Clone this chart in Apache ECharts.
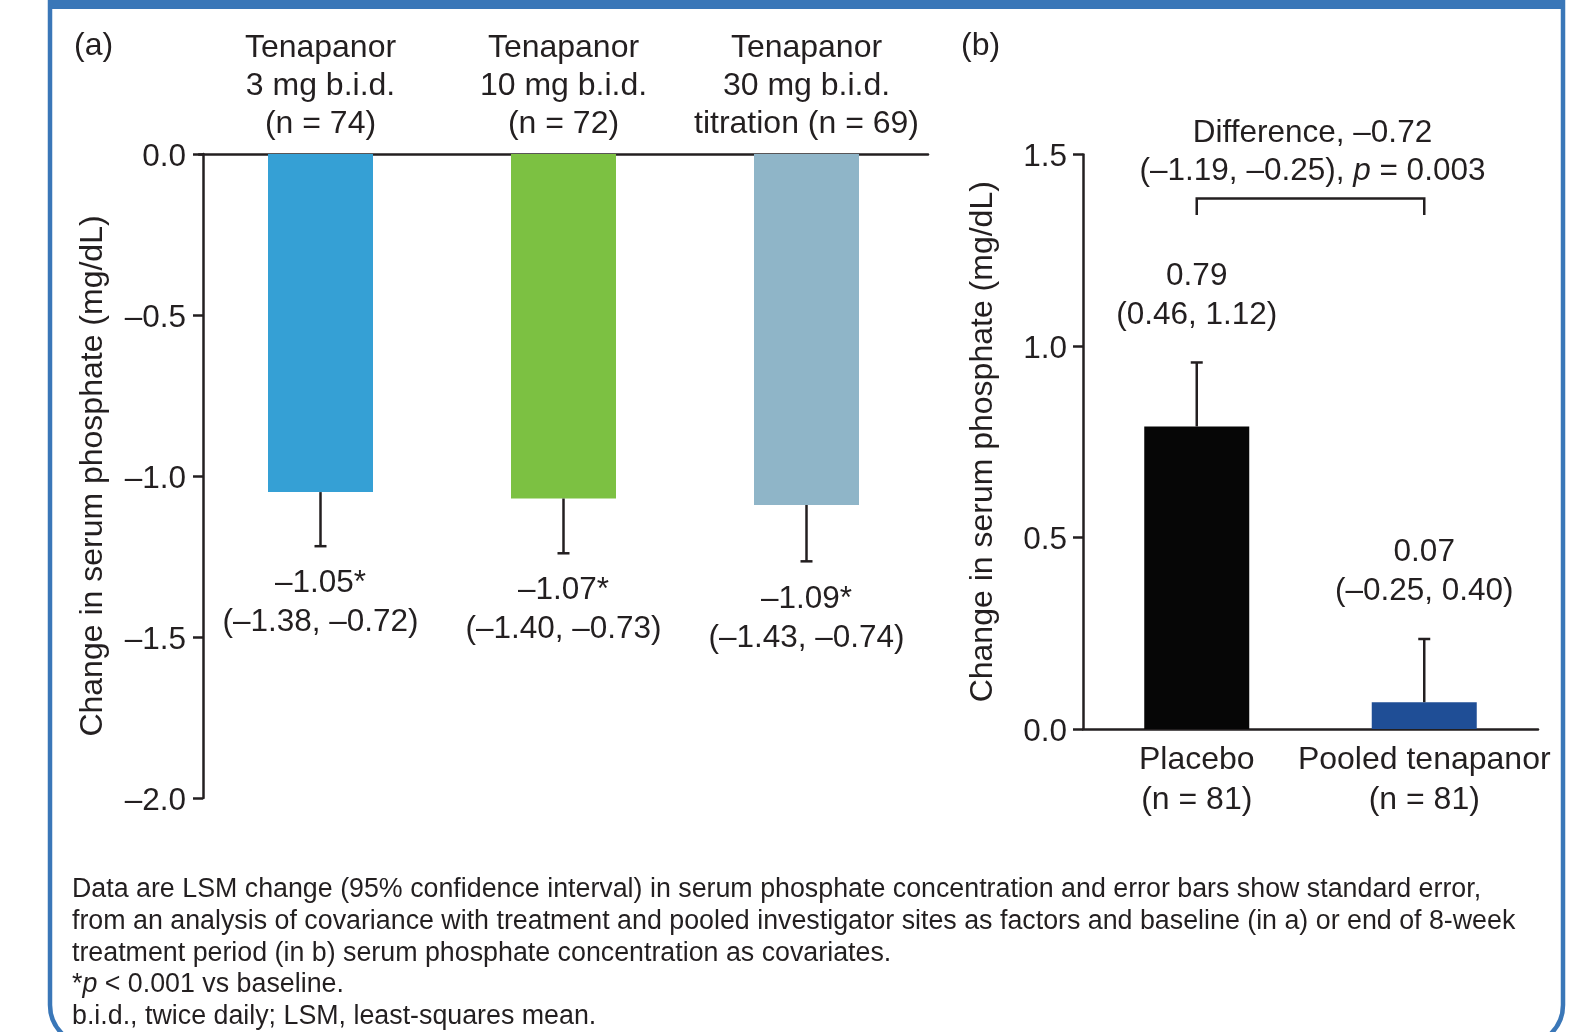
<!DOCTYPE html>
<html><head><meta charset="utf-8">
<script src="https://cdn.jsdelivr.net/npm/echarts@6/dist/echarts.min.js"></script>
<style>html,body{margin:0;padding:0;background:#fff}#c{width:1587px;height:1032px}</style>
</head><body><div id="c"></div>
<script>
// ---- Data: panel (a) ----
const catsA = ['Tenapanor\n3 mg b.i.d.\n(n = 74)', 'Tenapanor\n10 mg b.i.d.\n(n = 72)', 'Tenapanor\n30 mg b.i.d.\ntitration (n = 69)'];
const meanA = [-1.05, -1.07, -1.09];
const seA = [0.168, 0.170, 0.175];
const labelsA = ['–1.05*\n(–1.38, –0.72)', '–1.07*\n(–1.40, –0.73)', '–1.09*\n(–1.43, –0.74)'];
const colorsA = ['#35a0d5', '#7cc142', '#8fb5c8'];
const axisA = { min: -2, max: 0, interval: 0.5 };

// ---- Data: panel (b) ----
const catsB = ['Placebo\n(n = 81)', 'Pooled tenapanor\n(n = 81)'];
const meanB = [0.79, 0.07];
const seB = [0.167, 0.165];
const labelsB = ['0.79\n(0.46, 1.12)', '0.07\n(–0.25, 0.40)'];
const colorsB = ['#060606', '#1f4e96'];
const axisB = { min: 0, max: 1.5, interval: 0.5 };
const bracketB = { y: 1.385, leg: 1.342 };
const diffLine1 = 'Difference, –0.72';
const diffLine2 = ['(–1.19, –0.25), ', 'p', ' = 0.003'];

const yName = 'Change in serum phosphate (mg/dL)';
const footLines = [
  'Data are LSM change (95% confidence interval) in serum phosphate concentration and error bars show standard error,',
  'from an analysis of covariance with treatment and pooled investigator sites as factors and baseline (in a) or end of 8-week',
  'treatment period (in b) serum phosphate concentration as covariates.',
  ['*', 'p', ' < 0.001 vs baseline.'],
  'b.i.d., twice daily; LSM, least-squares mean.'
];

const FONT = '"Liberation Sans", Arial, Helvetica, sans-serif';
const INK = '#231f20';
const FS = 32;
const FSD = 31.5;
const FSF = 26.8;

function tickFmt(v) { return '{t|' + (v < 0 ? '–' : '') + Math.abs(v).toFixed(1) + '}'; }
const tickRich = { t: { fontSize: FSD, fontFamily: FONT, color: INK, padding: [6, 0, 0, 0] } };

const chart = echarts.init(document.getElementById('c'), null, { renderer: 'canvas' });

function errA(params, api) {
  const i = params.dataIndex;
  const x = api.value(0), m = api.value(1), se = api.value(2);
  const p0 = api.coord([x, m]);
  const p1 = api.coord([x, m - se]);
  const ls = { stroke: INK, lineWidth: 2.5 };
  return { type: 'group', children: [
    { type: 'line', shape: { x1: p0[0], y1: p0[1], x2: p1[0], y2: p1[1] }, style: ls },
    { type: 'line', shape: { x1: p1[0] - 6, y1: p1[1], x2: p1[0] + 6, y2: p1[1] }, style: ls },
    { type: 'text', x: p1[0], y: p1[1] + 18, style: { text: labelsA[i], align: 'center', verticalAlign: 'top', font: FSD + 'px ' + FONT, lineHeight: 39, fill: INK } }
  ]};
}
function errB(params, api) {
  const i = params.dataIndex;
  const x = api.value(0), m = api.value(1), se = api.value(2);
  const p0 = api.coord([x, m]);
  const p1 = api.coord([x, m + se]);
  const ls = { stroke: INK, lineWidth: 2.5 };
  return { type: 'group', children: [
    { type: 'line', shape: { x1: p0[0], y1: p0[1], x2: p1[0], y2: p1[1] }, style: ls },
    { type: 'line', shape: { x1: p1[0] - 6, y1: p1[1], x2: p1[0] + 6, y2: p1[1] }, style: ls },
    { type: 'text', x: p1[0], y: p1[1] - 28, style: { text: labelsB[i], align: 'center', verticalAlign: 'bottom', font: FSD + 'px ' + FONT, lineHeight: 39, fill: INK } }
  ]};
}
function bracket(params, api) {
  const a = api.coord([0, bracketB.y]);
  const b = api.coord([1, bracketB.y]);
  const la = api.coord([0, bracketB.leg]);
  const ls = { stroke: INK, lineWidth: 2.5, fill: null };
  const mid = (a[0] + b[0]) / 2;
  return { type: 'group', children: [
    { type: 'polyline', shape: { points: [[a[0], la[1]], [a[0], a[1]], [b[0], a[1]], [b[0], la[1]]] }, style: ls },
    { type: 'text', x: mid + 2, y: a[1] - 8, style: {
      text: diffLine1 + '\n' + diffLine2[0] + '{i|' + diffLine2[1] + '}' + diffLine2[2],
      rich: { i: { fontStyle: 'italic', fontSize: FSD, fontFamily: FONT, fill: INK } },
      align: 'center', verticalAlign: 'bottom', font: FSD + 'px ' + FONT, lineHeight: 38, fill: INK } }
  ]};
}

const axisLineStyle = { color: INK, width: 2.5 };
const labelStyle = { color: INK, fontSize: FS, fontFamily: FONT };
const tickLabelStyle = { color: INK, fontSize: FSD, fontFamily: FONT };

const footRich = footLines.map(l => Array.isArray(l) ? (l[0] + '{i|' + l[1] + '}' + l[2]) : l).join('\n');

chart.setOption({
  animation: false,
  backgroundColor: '#fff',
  grid: [
    { left: 199, top: 154, width: 729, height: 644 },
    { left: 1083, top: 154.5, width: 455, height: 574.5 }
  ],
  xAxis: [
    { type: 'category', gridIndex: 0, data: catsA, position: 'top',
      axisLine: { onZero: false, lineStyle: axisLineStyle }, axisTick: { show: false },
      axisLabel: Object.assign({ interval: 0, margin: 11, lineHeight: 38 }, labelStyle) },
    { type: 'category', gridIndex: 1, data: catsB, position: 'bottom',
      axisLine: { onZero: false, lineStyle: axisLineStyle }, axisTick: { show: false },
      axisLabel: Object.assign({ interval: 0, margin: 11, lineHeight: 40 }, labelStyle) }
  ],
  yAxis: [
    { type: 'value', gridIndex: 0, min: axisA.min, max: axisA.max, interval: axisA.interval, offset: -4,
      axisLine: { show: true, lineStyle: axisLineStyle },
      axisTick: { show: true, length: 10, lineStyle: axisLineStyle },
      splitLine: { show: false },
      axisLabel: Object.assign({ margin: 17, formatter: tickFmt, rich: tickRich }, tickLabelStyle),
      name: yName, nameLocation: 'middle', nameGap: 94, nameRotate: 90,
      nameTextStyle: { color: INK, fontSize: FS, fontFamily: FONT } },
    { type: 'value', gridIndex: 1, min: axisB.min, max: axisB.max, interval: axisB.interval,
      axisLine: { show: true, lineStyle: axisLineStyle },
      axisTick: { show: true, length: 10, lineStyle: axisLineStyle },
      splitLine: { show: false },
      axisLabel: Object.assign({ margin: 16, formatter: tickFmt, rich: tickRich }, tickLabelStyle),
      name: yName, nameLocation: 'middle', nameGap: 84, nameRotate: 90,
      nameTextStyle: { color: INK, fontSize: FS, fontFamily: FONT } }
  ],
  series: [
    { type: 'bar', xAxisIndex: 0, yAxisIndex: 0, barWidth: 105,
      data: meanA.map((v, i) => ({ value: v, itemStyle: { color: colorsA[i] } })) },
    { type: 'custom', xAxisIndex: 0, yAxisIndex: 0, z: 5, renderItem: errA,
      data: meanA.map((m, i) => [i, m, seA[i]]) },
    { type: 'bar', xAxisIndex: 1, yAxisIndex: 1, barWidth: 105,
      data: meanB.map((v, i) => ({ value: v, itemStyle: { color: colorsB[i] } })) },
    { type: 'custom', xAxisIndex: 1, yAxisIndex: 1, z: 5, renderItem: errB,
      data: meanB.map((m, i) => [i, m, seB[i]]) },
    { type: 'custom', xAxisIndex: 1, yAxisIndex: 1, z: 5, renderItem: bracket,
      data: [[0, bracketB.y]] }
  ],
  graphic: [
    { type: 'rect', z: 100, shape: { x: 50, y: -40, width: 1513, height: 1085, r: 40 },
      style: { fill: null, stroke: '#3a77b8', lineWidth: 4.5 } },
    { type: 'rect', z: 100, shape: { x: 48, y: 0, width: 1517, height: 9 }, style: { fill: '#3a77b8' } },
    { type: 'text', left: 74, top: 30, style: { text: '(a)', font: FS + 'px ' + FONT, fill: INK } },
    { type: 'text', left: 961, top: 30, style: { text: '(b)', font: FS + 'px ' + FONT, fill: INK } },
    { type: 'text', left: 72, top: 874, style: { text: footRich, font: FSF + 'px ' + FONT, lineHeight: 31.7, fill: INK,
      rich: { i: { fontStyle: 'italic', fontSize: FSF, fontFamily: FONT, fill: INK } } } }
  ]
});
</script></body></html>
